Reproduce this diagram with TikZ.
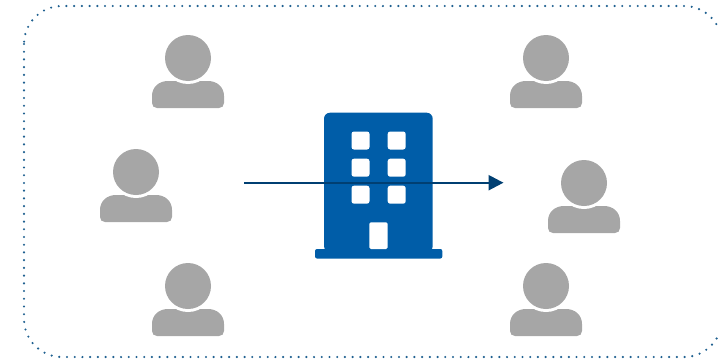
\documentclass[tikz,border=0pt]{standalone}
\usetikzlibrary{arrows.meta}
\definecolor{persongray}{HTML}{A6A6A6}
\definecolor{buildblue}{HTML}{005DA8}
\definecolor{arrowblue}{HTML}{003F72}
\definecolor{dotblue}{HTML}{1F6090}
\tikzset{
  x=1pt,y=-1pt,
  personshape/.pic={
    \fill[persongray] (-31,50) .. controls (-34,50) and (-36,48) .. (-36,45)
      -- (-36,38) .. controls (-36,29) and (-29,23) .. (-20,23)
      -- (20,23) .. controls (29,23) and (36,29) .. (36,38)
      -- (36,45) .. controls (36,48) and (34,50) .. (31,50) -- cycle;
    \fill[white] (0,0) circle[radius=26];
    \fill[persongray] (0,0) circle[radius=23];
  },
  windowbox/.style={fill=white,rounded corners=2.5pt},
  frameline/.style={draw=dotblue,line width=2.4pt,line cap=round,dash pattern=on 0pt off 7.72pt,rounded corners=38pt},
  flowarrow/.style={draw=arrowblue,line width=2.4pt,-{Triangle[length=15pt,width=15pt]}}
}
\begin{document}
\begin{tikzpicture}
\useasboundingbox (0,0) rectangle (718,359);
\begin{scope}
\clip (0,0) rectangle (718,359);
\draw[frameline] (24,6) rectangle (722,357);
\end{scope}
\foreach \px/\py in {188/58,136/172,188/286,546/58,584/183,546/286}
  \pic at (\px,\py) {personshape};
% building
\fill[buildblue,rounded corners=6pt] (324,252) -- (324,112.7) -- (432.7,112.7) -- (432.7,252) -- cycle;
\fill[buildblue,rounded corners=2pt] (315,258.5) -- (315,249) -- (442.3,249) -- (442.3,258.5) -- cycle;
\foreach \wx in {351.5,387.7}
  \foreach \wy in {131.5,158.7,185.7}
    \fill[windowbox] (\wx,\wy) rectangle +(18,18);
\fill[windowbox,rounded corners=1.5pt] (369.3,249) -- (369.3,222.3) -- (387.7,222.3) -- (387.7,249) -- cycle;
\coordinate (arrowstart) at (244,182.7);
\coordinate (arrowend) at (503.5,182.7);
\draw[flowarrow] (arrowstart) -- (arrowend);
\end{tikzpicture}
\end{document}
